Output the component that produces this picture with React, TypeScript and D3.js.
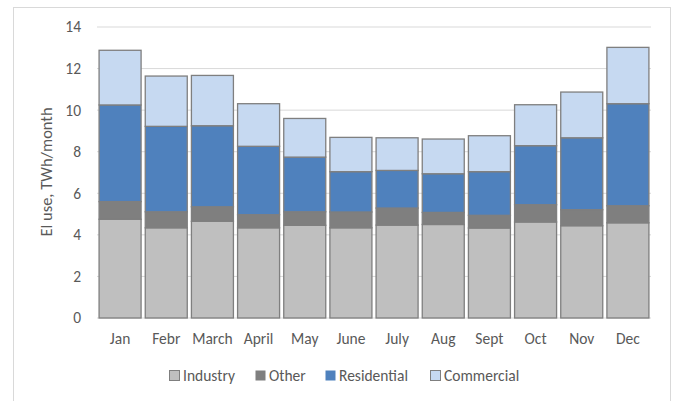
import React from 'react';
import * as d3 from 'd3';

const months = ['Jan', 'Febr', 'March', 'April', 'May', 'June', 'July', 'Aug', 'Sept', 'Oct', 'Nov', 'Dec'];
const industry = [4.75, 4.34, 4.65, 4.34, 4.46, 4.34, 4.47, 4.5, 4.33, 4.62, 4.44, 4.58];
const other = [0.85, 0.77, 0.7, 0.63, 0.65, 0.76, 0.82, 0.58, 0.61, 0.83, 0.77, 0.82];
const residential = [4.65, 4.11, 3.9, 3.29, 2.63, 1.94, 1.81, 1.86, 2.1, 2.84, 3.46, 4.91];
const commercial = [2.63, 2.42, 2.42, 2.05, 1.86, 1.65, 1.57, 1.67, 1.73, 1.97, 2.2, 2.71];
const seriesNames = ['Industry', 'Other', 'Residential', 'Commercial'];
const yTicks = [0, 2, 4, 6, 8, 10, 12, 14];

const colors: Record<string, string> = {
  Industry: '#bfbfbf',
  Other: '#7f7f7f',
  Residential: '#4f81bd',
  Commercial: '#c6d9f1',
};

const W = 676, H = 401;
const left = 97, right = 651, top = 27, bottom = 318;
const font = 'Carlito, Calibri, Lato, sans-serif';
const textColor = '#595959';

export default function App() {
  const rows = months.map((m, i) => ({
    month: m,
    Industry: industry[i],
    Other: other[i],
    Residential: residential[i],
    Commercial: commercial[i],
  }));
  const stacked = d3.stack<any>().keys(seriesNames)(rows);

  const x = d3.scaleBand().domain(months).range([left, right]).paddingInner(0.09).paddingOuter(0.045);
  const y = d3.scaleLinear().domain([0, 14]).range([bottom, top]);

  const legendX = [169, 255, 325, 430];

  return (
    <svg width={W} height={H} style={{ position: 'absolute', left: 0, top: 0, background: '#fff' }}>
      <rect x={13.5} y={7.5} width={657} height={400} fill="#fff" stroke="#d9d9d9" />
      {yTicks.map(t => (
        <g key={t}>
          <line x1={left} x2={right} y1={y(t)} y2={y(t)} stroke="#d9d9d9" strokeWidth={1} />
          <text x={81} y={y(t)} dy="0.35em" textAnchor="end" fontSize={15.5} fill={textColor} fontFamily={font}>{t}</text>
        </g>
      ))}
      {stacked.map(s => (
        <g key={s.key}>
          {s.map((d, i) => (
            <rect key={i}
              x={x(months[i])!}
              y={y(d[1])}
              width={x.bandwidth()}
              height={y(d[0]) - y(d[1])}
              fill={colors[s.key]}
              stroke="#7f7f7f"
              strokeWidth={1.3} />
          ))}
        </g>
      ))}
      {months.map(m => (
        <text key={m} x={x(m)! + x.bandwidth() / 2} y={339} dy="0.35em" textAnchor="middle" fontSize={15.5} fill={textColor} fontFamily={font}>{m}</text>
      ))}
      <text transform={`translate(46,172) rotate(-90)`} textAnchor="middle" dy="0.35em" fontSize={16.5} fill={textColor} fontFamily={font}>El use, TWh/month</text>
      {seriesNames.map((n, i) => (
        <g key={n} transform={`translate(${legendX[i]},376)`}>
          <rect x={0.5} y={-5.5} width={10} height={10} fill={colors[n]} stroke={n === 'Other' || n === 'Residential' ? 'none' : '#7f7f7f'} />
          <text x={14} y={0} dy="0.35em" fontSize={15.5} fill={textColor} fontFamily={font}>{n}</text>
        </g>
      ))}
    </svg>
  );
}
